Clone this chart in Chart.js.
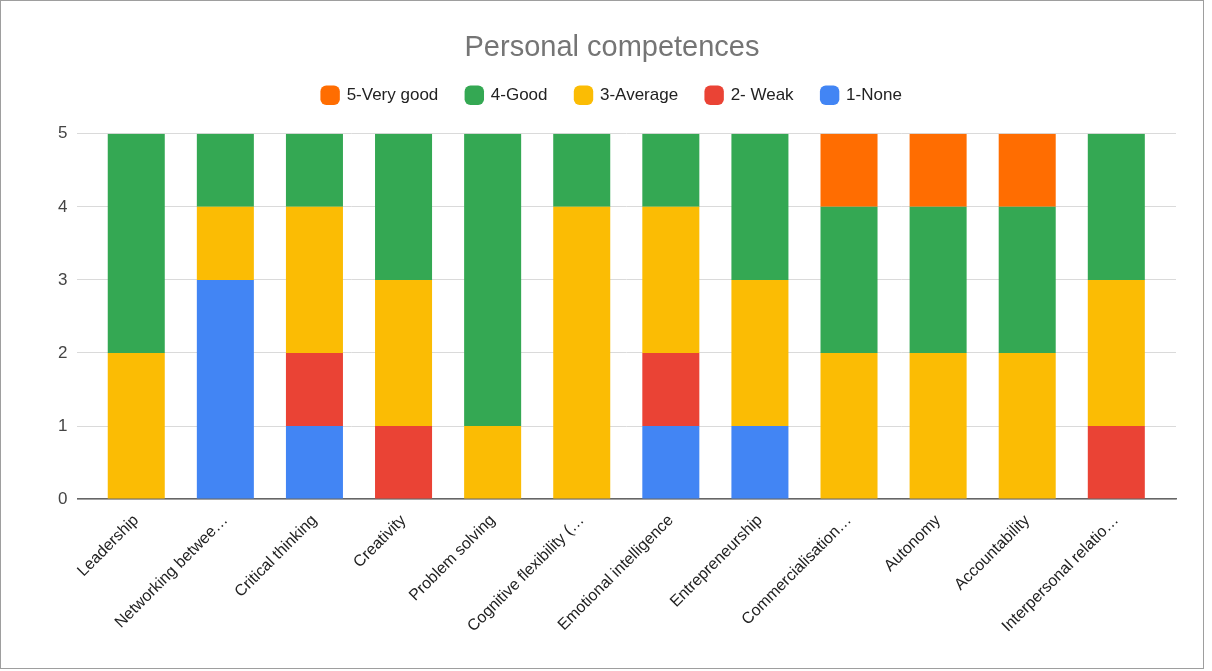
<!DOCTYPE html>
<html>
<head>
<meta charset="utf-8">
<script src="https://cdn.jsdelivr.net/npm/chart.js@4/dist/chart.umd.min.js"></script>
<style>
  html, body { margin: 0; padding: 0; background: #fff; }
  #frame { position: absolute; left: 0; top: 0; width: 1202px; height: 667px; border: 1px solid #9e9e9e; background: #fff; }
  #wrap { position: absolute; left: 0; top: 0; width: 1202px; height: 667px; }
</style>
</head>
<body>
<div id="frame"><div id="wrap"><canvas id="c"></canvas></div></div>
<script>
const categories = ["Leadership", "Networking betwee\u2026", "Critical thinking", "Creativity", "Problem solving", "Cognitive flexibility (\u2026", "Emotional intelligence", "Entrepreneurship", "Commercialisation\u2026", "Autonomy", "Accountability", "Interpersonal relatio\u2026"];
const none1    = [0, 3, 1, 0, 0, 0, 1, 1, 0, 0, 0, 0];
const weak2    = [0, 0, 1, 1, 0, 0, 1, 0, 0, 0, 0, 1];
const average3 = [2, 1, 2, 2, 1, 4, 2, 2, 2, 2, 2, 2];
const good4    = [3, 1, 1, 2, 4, 1, 1, 2, 2, 2, 2, 2];
const veryGood5= [0, 0, 0, 0, 0, 0, 0, 0, 1, 1, 1, 0];
const yTicks = [0, 1, 2, 3, 4, 5];

const font = "Arial, 'Liberation Sans', sans-serif";
const mk = (label, data, color) => ({
  label,
  data: data.map((v, i) => ({ x: i, y: v })),
  backgroundColor: color, borderWidth: 0, barPercentage: 0.64, categoryPercentage: 1.0
});

const legendGap = {
  id: 'legendGap',
  beforeLayout(chart) {
    const lg = chart.legend;
    if (lg && !lg._gapPatched) {
      const f = lg.fit;
      lg.fit = function () { f.call(this); this.height += 20; };
      lg._gapPatched = true;
    }
  }
};

new Chart(document.getElementById('c'), {
  type: 'bar',
  data: {
    datasets: [
      mk('1-None', none1, '#4285F4'),
      mk('2- Weak', weak2, '#EA4335'),
      mk('3-Average', average3, '#FBBC04'),
      mk('4-Good', good4, '#34A853'),
      mk('5-Very good', veryGood5, '#FF6D01')
    ]
  },
  plugins: [legendGap],
  options: {
    responsive: true,
    maintainAspectRatio: false,
    animation: false,
    layout: { padding: { left: 47, right: 27, top: 30, bottom: 20 } },
    plugins: {
      title: { display: true, text: 'Personal competences', color: '#757575', font: { family: font, size: 29, weight: 'normal' }, padding: { top: 0, bottom: -7 } },
      legend: {
        reverse: true,
        labels: { color: '#222', font: { family: font, size: 17 }, usePointStyle: true, pointStyle: 'rectRounded', boxWidth: 16, boxHeight: 16, padding: 28 }
      },
      tooltip: { enabled: false }
    },
    scales: {
      x: {
        type: 'linear',
        stacked: true,
        offset: false,
        min: -0.66, max: 11.67,
        afterBuildTicks: (s) => { s.ticks = categories.map((c, i) => ({ value: i })); },
        grid: { display: false, drawTicks: false },
        border: { display: true, color: '#666', width: 1.5 },
        ticks: { color: '#222', font: { family: font, size: 16 }, maxRotation: 45, minRotation: 45, autoSkip: false, padding: 12,
                 callback: (v) => categories[v] }
      },
      y: {
        stacked: true,
        min: 0, max: 5,
        afterBuildTicks: (s) => { s.ticks = yTicks.map(v => ({ value: v })); },
        grid: { color: '#dadada', drawTicks: false },
        border: { display: false },
        ticks: { color: '#444', font: { family: font, size: 17 }, padding: 10 }
      }
    }
  }
});
</script>
</body>
</html>
